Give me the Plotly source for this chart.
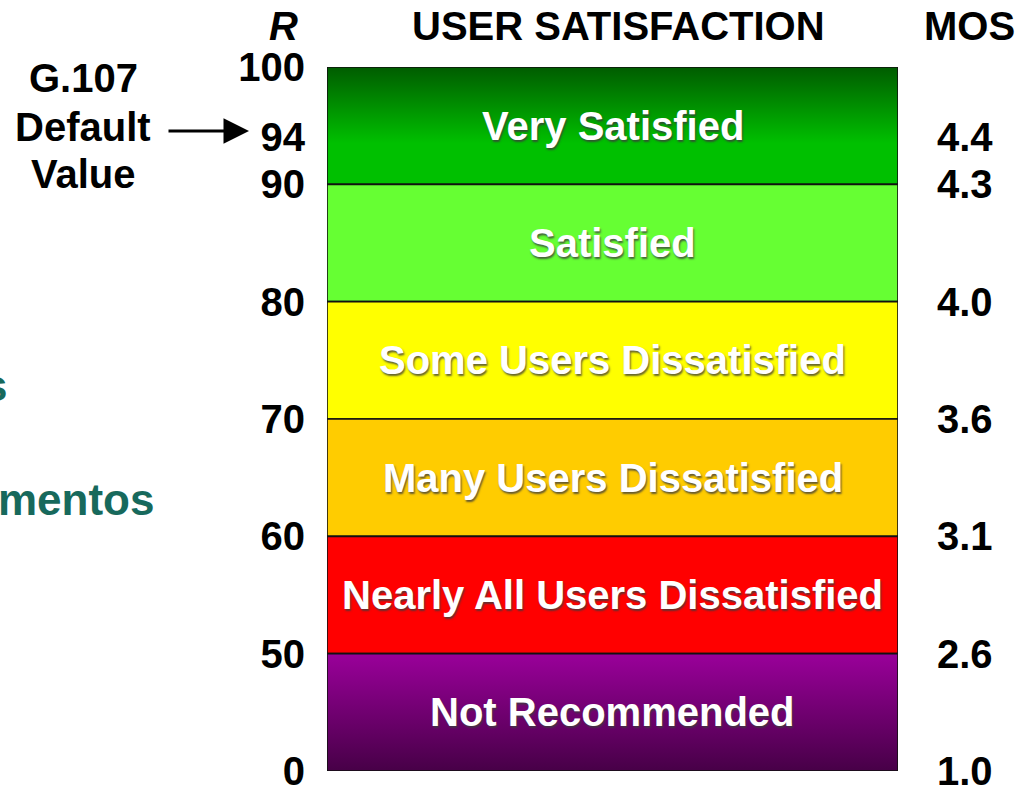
import numpy as np
import plotly.graph_objects as go

# ---- data ----
categories = ["Very Satisfied", "Satisfied", "Some Users Dissatisfied",
              "Many Users Dissatisfied", "Nearly All Users Dissatisfied", "Not Recommended"]
r_upper = [100, 90, 80, 70, 60, 50]
r_lower = [90, 80, 70, 60, 50, 0]
r_tick_values = [100, 94, 90, 80, 70, 60, 50, 0]
mos_at_r = [94, 90, 80, 70, 60, 50, 0]
mos_labels = ["4.4", "4.3", "4.0", "3.6", "3.1", "2.6", "1.0"]
default_r = 94
note_lines = ["G.107", "Default", "Value"]

# ---- styles ----
band_fill = ["#00c000", "#66ff33", "#ffff00", "#ffcc00", "#ff0000", "#800080"]
band_gradient = {
    0: [[0, "#00c000"], [0.35, "#00c000"], [1, "#005c00"]],
    5: [[0, "#470047"], [1, "#9a009a"]],
}
FONT = "Liberation Sans, Arial, sans-serif"
W, H = 1031, 789
BOX_L, BOX_R, BOX_T, BOX_B = 327, 898, 67, 771  # target box in window pixels
L, T, R_, B = BOX_L, BOX_T, W - BOX_R, H - BOX_B
PW = BOX_R - BOX_L
PH = BOX_B - BOX_T

# R scale: each band has equal height regardless of R span
r_bounds = [0, 50, 60, 70, 80, 90, 100]
band_idx = [0, 1, 2, 3, 4, 5, 6]


def r_pos(r):
    return float(np.interp(r, r_bounds, band_idx))


def px_x(p):
    return (p - BOX_L) / PW


def px_y(p):
    return (BOX_B - p) / PH


fig = go.Figure()
for i, cat in enumerate(categories):
    lo, hi = r_pos(r_lower[i]), r_pos(r_upper[i])
    kw = dict(x=[0, 1, 1, 0, 0], y=[lo, lo, hi, hi, lo], mode="lines", fill="toself",
              line=dict(color="#111111", width=1.6), hoverinfo="skip", showlegend=False)
    if i in band_gradient:
        kw["fillgradient"] = dict(type="vertical", colorscale=band_gradient[i])
    else:
        kw["fillcolor"] = band_fill[i]
    fig.add_trace(go.Scatter(**kw))
    fig.add_annotation(x=0.5, y=(lo + hi) / 2, xref="x", yref="y", showarrow=False,
                       xanchor="center", yanchor="middle",
                       text="<b>%s</b>" % cat,
                       font=dict(family=FONT, size=40, color="white",
                                 shadow="1px 2px 2px rgba(60,60,60,0.8)"))

# right axis dummy trace
fig.add_trace(go.Scatter(x=[0.5], y=[3], yaxis="y2", mode="markers",
                         marker=dict(opacity=0), hoverinfo="skip", showlegend=False))

tickfont = dict(family=FONT, size=40, color="black", weight="bold")
fig.update_layout(
    width=W, height=H, margin=dict(l=L, r=R_, t=T, b=B, autoexpand=False),
    paper_bgcolor="white", plot_bgcolor="white", showlegend=False,
    xaxis=dict(range=[0, 1], visible=False, fixedrange=True, automargin=False),
    yaxis=dict(range=[0, 6], showgrid=False, zeroline=False, showline=False, ticks="",
               tickvals=[r_pos(v) for v in r_tick_values],
               ticktext=[str(v) for v in r_tick_values], automargin=False,
               tickfont=tickfont, ticklabelstandoff=21, ticklabeloverflow="allow"),
    yaxis2=dict(range=[0, 6], overlaying="y", side="right", showgrid=False,
                zeroline=False, showline=False, ticks="", automargin=False,
                tickvals=[r_pos(v) for v in mos_at_r], ticktext=mos_labels,
                tickfont=tickfont, ticklabelstandoff=38, ticklabeloverflow="allow"),
)


def note(px, py, text, font, xanchor="center"):
    fig.add_annotation(x=px_x(px), y=px_y(py), xref="paper", yref="paper",
                       showarrow=False, xanchor=xanchor, yanchor="middle",
                       align="center", text=text, font=font)


# headers
hdr = dict(family=FONT, size=40, color="black")
note(283, 26, "<b><i>R</i></b>", hdr)
note(618, 26, "<b>USER SATISFACTION</b>", hdr)
note(969, 26, "<b>MOS</b>", hdr)

# G.107 default note + arrow
for line, py in zip(note_lines, [78, 127, 174]):
    note(83, py, "<b>%s</b>" % line, dict(family=FONT, size=40, color="black"))
fig.add_annotation(x=px_x(249), y=px_y(131), xref="paper", yref="paper", text="",
                   showarrow=True, ax=-82, ay=0, arrowhead=2, arrowsize=1.7,
                   arrowwidth=3, arrowcolor="black")

# partially visible background slide text
teal = dict(family=FONT, size=44, color="#17695c")
note(9, 385, "<b>s</b>", teal, xanchor="right")
note(156, 500, "<b>mentos</b>", teal, xanchor="right")

fig.write_html("out.html", config={"displayModeBar": False},
               post_script="document.body.style.margin='0px';")
